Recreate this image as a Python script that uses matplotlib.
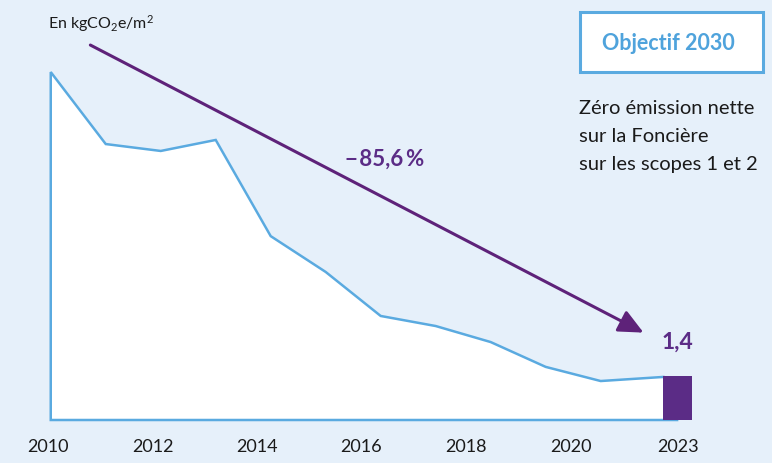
import numpy as np
import matplotlib.pyplot as plt
from matplotlib.patches import FancyBboxPatch

# values (kgCO2e/m2), positions are point indices
pos = [0, 1, 2, 3, 4, 5, 6, 7, 8, 9, 10, 11.14]
values = [11.07, 8.78, 8.56, 8.91, 5.85, 4.71, 3.31, 2.99, 2.48, 1.69, 1.24, 1.37]
bar_pos = 11.4
bar_value = 1.4
tick_pos = [-0.05, 1.85, 3.75, 5.65, 7.55, 9.46, 11.4]
tick_labels = ['2010', '2012', '2014', '2016', '2018', '2020', '2023']

bg = '#E6F0FA'
blue = '#5AAAE0'
purple = '#5B2C86'
plt.rcParams['font.family'] = ['Lato', 'DejaVu Sans']
plt.rcParams['mathtext.fontset'] = 'custom'
plt.rcParams['mathtext.rm'] = 'Lato'
plt.rcParams['mathtext.it'] = 'Lato'

fig = plt.figure(figsize=(7.72, 4.63), dpi=100, facecolor=bg)
ax = fig.add_axes([48 / 772, 43 / 463, 724 / 772, 420 / 463])
ax.set_facecolor(bg)
ax.set_xlim(0, 724 / 55.2)
ax.set_ylim(0, 420 / 31.43)
for s in ax.spines.values():
    s.set_visible(False)

x = np.array(pos)
y = np.array(values)
ax.fill_between(x, 0, y, color='white', zorder=1)
ax.plot(np.r_[x[-1] + 0.25, x[0], x], np.r_[0, 0, y], color=blue, lw=1.8,
        solid_joinstyle='miter', zorder=2, clip_on=False)
ax.bar([bar_pos], [bar_value], width=0.53, color=purple, zorder=3)
ax.text(bar_pos, bar_value + 0.75, '1,4', ha='center', va='bottom',
        fontsize=16.5, fontweight='bold', color=purple)

ax.set_xticks(tick_pos)
ax.set_xticklabels(tick_labels, fontsize=13, color='#1a1a1a')
ax.tick_params(axis='x', length=0, pad=14)
ax.set_yticks([])

# arrow
ax.annotate('', xy=(10.78, 2.78), xytext=(0.72, 11.93),
            arrowprops=dict(arrowstyle='-|>,head_length=1.5,head_width=0.7',
                            color='#5E2279', lw=2.2, shrinkA=0, shrinkB=0))
ax.text(6.07, 8.3, '\u2212\u200a85,6\u2009%', ha='center', va='center', fontsize=16,
        fontweight='bold', color=purple)

fig.text(48 / 772, 1 - 24 / 463, 'En kgCO$_2$e/m$^2$', ha='left', va='center',
         fontsize=11.5, color='#1a1a1a')

box = FancyBboxPatch((580 / 772, 1 - 72 / 463), 183 / 772, 60 / 463,
                     boxstyle='square,pad=0', transform=fig.transFigure,
                     facecolor='white', edgecolor=blue, lw=2.2)
fig.patches.append(box)
fig.text(668 / 772, 1 - 43 / 463, 'Objectif 2030', ha='center', va='center',
         fontsize=15.5, fontweight='bold', color='#4FA3DC')
fig.text(579 / 772, 1 - 100 / 463,
         'Zéro émission nette\nsur la Foncière\nsur les scopes 1 et 2',
         ha='left', va='top', fontsize=14.5, color='#1a1a1a', linespacing=1.8)

fig.savefig('out.png', dpi=100, facecolor=bg)
